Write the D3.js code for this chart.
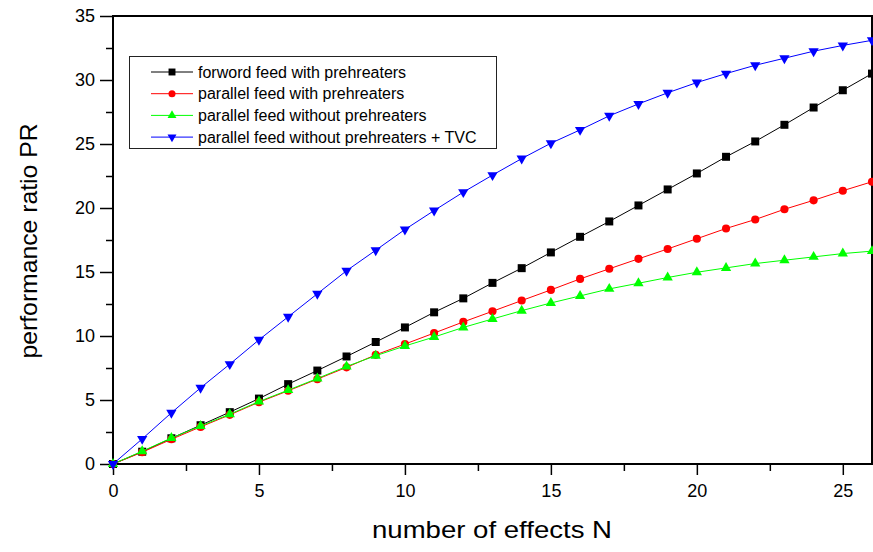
<!DOCTYPE html>
<html>
<head>
<meta charset="utf-8">
<script src="https://cdn.jsdelivr.net/npm/d3@7"></script>
<style>
  body { margin: 0; background: #fff; }
  svg { display: block; font-family: "Liberation Sans", Arial, sans-serif; }
  .tick text { font-size: 18px; fill: #000; }
</style>
</head>
<body>
<div id="main"></div>
<script>

// number of effects N
var effects = d3.range(0, 27);

// performance ratio PR
var forwardWith = [0, 0.96, 2.01, 3.03, 4.05, 5.11, 6.24, 7.3, 8.4, 9.53, 10.67, 11.85, 12.94, 14.15, 15.3, 16.53, 17.75, 18.95, 20.2, 21.45, 22.7, 24.0, 25.2, 26.5, 27.85, 29.2, 30.5];
var parallelWith = [0, 0.92, 1.93, 2.9, 3.84, 4.83, 5.72, 6.63, 7.55, 8.53, 9.37, 10.23, 11.1, 11.93, 12.77, 13.6, 14.46, 15.25, 16.03, 16.8, 17.6, 18.4, 19.1, 19.9, 20.6, 21.35, 22.05];
var parallelWithout = [0, 1.0, 2.03, 2.97, 3.89, 4.88, 5.77, 6.68, 7.62, 8.46, 9.22, 9.92, 10.67, 11.33, 11.98, 12.58, 13.13, 13.68, 14.12, 14.57, 14.98, 15.32, 15.66, 15.92, 16.18, 16.44, 16.63];
var parallelTVC = [0, 1.96, 4.0, 5.95, 7.8, 9.7, 11.5, 13.3, 15.1, 16.7, 18.32, 19.8, 21.24, 22.57, 23.86, 25.06, 26.1, 27.2, 28.13, 29.0, 29.8, 30.5, 31.15, 31.7, 32.25, 32.7, 33.1];

var seriesNames = ["forword feed with prehreaters", "parallel feed with prehreaters", "parallel feed without prehreaters", "parallel feed without prehreaters + TVC"];

var xTicks = [0, 5, 10, 15, 20, 25];
var yTicks = [0, 5, 10, 15, 20, 25, 30, 35];

var series = [
  {name: seriesNames[0], values: forwardWith, color: "#000000", shape: d3.symbolSquare, size: 64, rot: 0},
  {name: seriesNames[1], values: parallelWith, color: "#ff0000", shape: d3.symbolCircle, size: 52, rot: 0},
  {name: seriesNames[2], values: parallelWithout, color: "#00ff00", shape: d3.symbolTriangle, size: 46, rot: 0},
  {name: seriesNames[3], values: parallelTVC, color: "#0000ff", shape: d3.symbolTriangle, size: 46, rot: 180}
];

var W = 873, H = 552;
var mLeft = 113, mRight = 872, mTop = 16, mBottom = 464;

var svg = d3.select('#main')
  .append('svg')
  .attr("width", W)
  .attr("height", H);

var x = d3.scaleLinear().domain([0, 26]).range([mLeft, mRight]);
var y = d3.scaleLinear().domain([0, 35]).range([mBottom, mTop]);

// minor ticks
var xMinor = d3.range(2.5, 26, 5);
var yMinor = d3.range(2.5, 35, 5);

svg.append('g')
  .attr('transform', 'translate(0,' + mBottom + ')')
  .call(d3.axisBottom(x).tickValues(xMinor).tickSize(7).tickFormat(""))
  .call(g => g.select('.domain').remove())
  .selectAll('line').attr('stroke-width', 1.5);

svg.append('g')
  .attr('transform', 'translate(' + mLeft + ',0)')
  .call(d3.axisLeft(y).tickValues(yMinor).tickSize(7).tickFormat(""))
  .call(g => g.select('.domain').remove())
  .selectAll('line').attr('stroke-width', 1.5);

var xAxis = svg.append('g')
  .attr('transform', 'translate(0,' + mBottom + ')')
  .call(d3.axisBottom(x).tickValues(xTicks).tickSize(11).tickPadding(9).tickFormat(d3.format("d")));
xAxis.select('.domain').remove();
xAxis.selectAll('line').attr('stroke-width', 1.5);

var yAxis = svg.append('g')
  .attr('transform', 'translate(' + mLeft + ',0)')
  .call(d3.axisLeft(y).tickValues(yTicks).tickSize(13).tickPadding(5).tickFormat(d3.format("d")));
yAxis.select('.domain').remove();
yAxis.selectAll('line').attr('stroke-width', 1.5);

// frame
svg.append('rect')
  .attr('x', mLeft)
  .attr('y', mTop)
  .attr('width', mRight - mLeft)
  .attr('height', mBottom - mTop)
  .attr('fill', 'none')
  .attr('stroke', '#000')
  .attr('stroke-width', 2);

var line = d3.line()
  .x((d, i) => x(effects[i]))
  .y(d => y(d));

series.forEach(function(s) {
  var g = svg.append('g');
  g.append('path')
    .datum(s.values)
    .attr('d', line)
    .attr('fill', 'none')
    .attr('stroke', s.color)
    .attr('stroke-width', 1);
  g.selectAll('path.mark')
    .data(s.values)
    .enter()
    .append('path')
    .attr('class', 'mark')
    .attr('d', d3.symbol().type(s.shape).size(s.size))
    .attr('transform', (d, i) => 'translate(' + x(effects[i]) + ',' + y(d) + ')rotate(' + s.rot + ')')
    .attr('fill', s.color);
});

// legend
var leg = svg.append('g');
leg.append('rect')
  .attr('x', 129.5)
  .attr('y', 56.5)
  .attr('width', 367)
  .attr('height', 92)
  .attr('fill', '#fff')
  .attr('stroke', '#222')
  .attr('stroke-width', 1);

series.forEach(function(s, i) {
  var ly = 72 + i * 21.7;
  leg.append('line')
    .attr('x1', 151).attr('x2', 193)
    .attr('y1', ly).attr('y2', ly)
    .attr('stroke', s.color)
    .attr('stroke-width', 1);
  leg.append('path')
    .attr('d', d3.symbol().type(s.shape).size(s.size * 0.75))
    .attr('transform', 'translate(172,' + ly + ')rotate(' + s.rot + ')')
    .attr('fill', s.color);
  leg.append('text')
    .text(s.name)
    .attr('x', 198)
    .attr('y', ly)
    .attr('dy', '0.35em')
    .style('font-size', '16px');
});

// axis titles
svg.append('text')
  .text("number of effects N")
  .attr('x', 492)
  .attr('y', 538)
  .attr('text-anchor', 'middle')
  .attr('textLength', 240)
  .attr('lengthAdjust', 'spacingAndGlyphs')
  .style('font-size', '24px');

svg.append('text')
  .text("performance ratio PR")
  .attr('transform', 'translate(37,241)rotate(-90)')
  .attr('text-anchor', 'middle')
  .attr('textLength', 235)
  .attr('lengthAdjust', 'spacingAndGlyphs')
  .style('font-size', '24px');

</script>
</body>
</html>
